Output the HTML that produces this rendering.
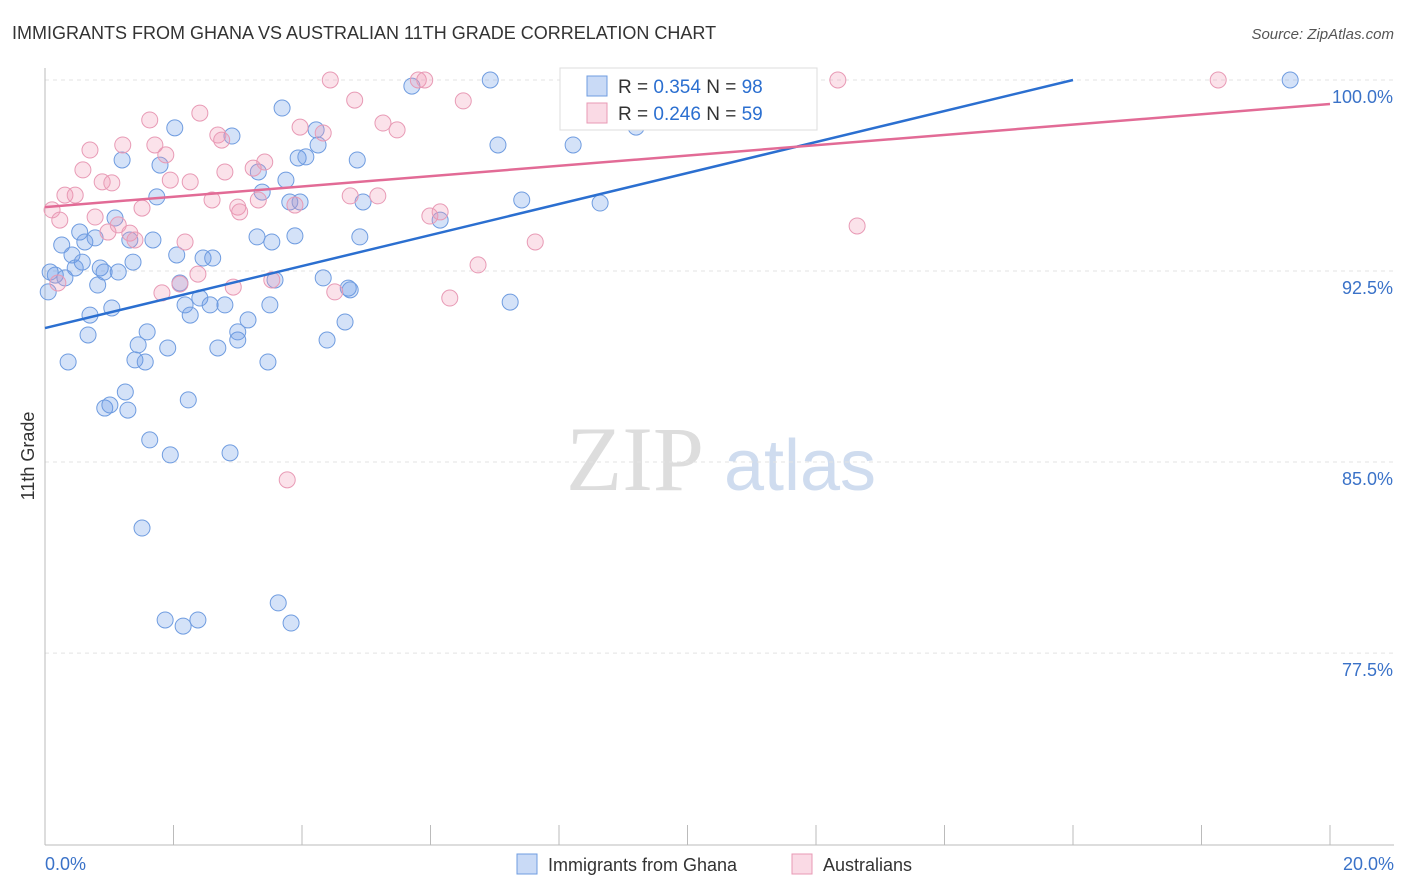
<!DOCTYPE html>
<html><head><meta charset="utf-8"><style>
body{margin:0;background:#fff;font-family:"Liberation Sans",sans-serif}
svg{display:block}
</style></head><body>
<svg id="chart" width="1406" height="892">
<text x="12" y="39" font-size="18" fill="#333">IMMIGRANTS FROM GHANA VS AUSTRALIAN 11TH GRADE CORRELATION CHART</text>
<text x="1394" y="39" font-size="15" fill="#555" text-anchor="end" font-style="italic">Source: ZipAtlas.com</text>
<text x="34" y="456" font-size="18" fill="#333" text-anchor="middle" transform="rotate(-90 34 456)">11th Grade</text>
<g><text x="635" y="490" font-size="92" fill="#ddd" text-anchor="middle" font-family="Liberation Serif,serif">ZIP</text><text x="800" y="490" font-size="72" fill="#cfdcef" text-anchor="middle">atlas</text></g>
<g id="grid"></g><g id="axes"></g><g id="pts"></g><g id="lines"></g>
<g>
<rect x="560" y="68" width="257" height="62" fill="#fff" stroke="#ddd"/>
<rect x="587" y="76" width="20" height="20" fill="rgba(100,150,230,0.35)" stroke="#6f9ce0"/>
<text x="618" y="93" font-size="19" fill="#333">R = <tspan fill="#2b6fd0">0.354</tspan>   N = <tspan fill="#2b6fd0">98</tspan></text>
<rect x="587" y="103" width="20" height="20" fill="rgba(240,150,180,0.35)" stroke="#e89ab5"/>
<text x="618" y="120" font-size="19" fill="#333">R = <tspan fill="#2b6fd0">0.246</tspan>   N = <tspan fill="#2b6fd0">59</tspan></text>
</g>
<g>
<rect x="517" y="854" width="20" height="20" fill="rgba(100,150,230,0.35)" stroke="#6f9ce0"/>
<text x="548" y="871" font-size="18" fill="#333">Immigrants from Ghana</text>
<rect x="792" y="854" width="20" height="20" fill="rgba(240,150,180,0.35)" stroke="#e89ab5"/>
<text x="823" y="871" font-size="18" fill="#333">Australians</text>
</g>
</svg>
<script>
const blueX=[0.05,0.08,0.16,0.26,0.31,0.36,0.42,0.47,0.54,0.58,0.62,0.70,0.67,0.78,0.82,0.86,0.92,0.93,1.01,1.04,1.09,1.14,1.20,1.25,1.29,1.32,1.37,1.40,1.45,1.51,1.56,1.59,1.63,1.68,1.74,1.79,1.87,1.91,1.95,2.02,2.05,2.10,2.15,2.18,2.23,2.26,2.38,2.41,2.46,2.57,2.61,2.69,2.80,2.88,2.91,3.00,3.00,3.16,3.32,3.38,3.30,3.47,3.50,3.53,3.58,3.63,3.69,3.75,3.81,3.83,3.89,3.94,3.97,4.06,4.22,4.25,4.33,4.39,4.67,4.72,4.75,4.86,4.90,4.95,5.71,6.15,6.93,7.05,7.24,7.42,8.22,8.64,9.20,19.38];
const blueY=[91.68,92.46,92.34,93.52,92.23,88.93,93.13,92.62,94.03,92.85,93.64,90.77,89.99,93.8,91.95,92.62,92.46,87.12,87.24,91.05,94.58,92.46,96.86,87.75,87.04,93.72,92.85,89.01,89.6,82.41,88.93,90.11,85.87,93.72,95.41,96.66,78.8,89.48,85.28,98.12,93.13,92.03,78.56,91.17,87.44,90.77,78.8,91.44,93.01,91.17,93.01,89.48,91.17,85.36,97.8,89.79,90.11,90.58,96.39,95.6,93.84,88.93,91.17,93.64,92.15,79.47,98.9,96.07,95.21,78.68,93.88,96.94,95.21,96.98,98.04,97.45,92.23,89.79,90.5,91.83,91.76,96.86,93.84,95.21,99.76,94.5,100,97.45,91.28,95.29,97.45,95.17,98.15,100];
const pinkX=[0.11,0.2,0.23,0.31,0.47,0.59,0.7,0.78,0.89,0.98,1.04,1.14,1.21,1.32,1.4,1.51,1.63,1.71,1.82,1.88,1.95,2.1,2.18,2.26,2.38,2.41,2.6,2.69,2.75,2.8,2.93,3.0,3.03,3.24,3.32,3.42,3.53,3.77,3.89,3.97,4.33,4.44,4.51,4.75,4.82,5.18,5.26,5.48,5.81,5.91,5.99,6.15,6.3,6.51,6.74,7.63,12.34,12.64,18.26];
const pinkY=[94.9,92.03,94.5,95.48,95.48,96.47,97.25,94.62,96.0,94.03,95.96,94.31,97.45,93.99,93.72,94.97,98.43,97.45,91.64,97.06,96.07,91.99,93.64,96.0,92.38,98.7,95.29,97.84,97.64,96.39,91.87,95.01,94.82,96.54,95.29,96.78,92.15,84.3,95.09,98.15,97.92,100,91.68,95.45,99.21,95.45,98.31,98.04,100,100,94.66,94.82,91.44,99.18,92.74,93.64,100,94.27,100];
const yTicks=[100,92.5,85,77.5];
const yTickLabels=["100.0%","92.5%","85.0%","77.5%"];
const blueTrend=[[0,90.26],[16,100]];
const pinkTrend=[[0,95.01],[20,99.06]];
const NS="http://www.w3.org/2000/svg";
const X=v=>45+v*64.25, Y=v=>80+(100-v)*25.47;
function mk(p,t,a){const e=document.createElementNS(NS,t);for(const k in a)e.setAttribute(k,a[k]);p.appendChild(e);return e;}
const grid=document.getElementById('grid'),axes=document.getElementById('axes'),pts=document.getElementById('pts'),lines=document.getElementById('lines');
yTicks.forEach((t,i)=>{
 const l=mk(grid,'line',{x1:45,x2:1394,y1:Y(t),y2:Y(t),stroke:'#e3e3e3','stroke-dasharray':'4,4'});
 
 
 const tx=mk(axes,'text',{x:1393,y:Y(t)+23,'font-size':18,fill:'#3a72c8','text-anchor':'end'});
 tx.textContent=yTickLabels[i];
 
 
});
const ax=mk(axes,'line',{x1:45,x2:1394,y1:845,y2:845,stroke:'#bbb'});


const ay=mk(axes,'line',{x1:45,x2:45,y1:68,y2:845,stroke:'#bbb'});


for(let i=0;i<=10;i++){const t=mk(axes,'line',{x1:X(i*2),x2:X(i*2),y1:825,y2:845,stroke:'#bbb'});
 
 }
[["0.0%",45,'start'],["20.0%",1394,'end']].forEach(d=>{const t=mk(axes,'text',{x:d[1],y:870,'font-size':18,fill:'#3a72c8','text-anchor':d[2]});t.textContent=d[0];
 
 });
blueX.forEach((v,i)=>{const c=mk(pts,'circle',{cx:X(v),cy:Y(blueY[i]),r:8,fill:'rgba(100,150,230,0.28)',stroke:'#6f9ce0','stroke-width':1});
 
 });
pinkX.forEach((v,i)=>{const c=mk(pts,'circle',{cx:X(v),cy:Y(pinkY[i]),r:8,fill:'rgba(240,150,180,0.28)',stroke:'#e89ab5','stroke-width':1});
 
 });
const bl=mk(lines,'line',{x1:X(blueTrend[0][0]),y1:Y(blueTrend[0][1]),x2:X(blueTrend[1][0]),y2:Y(blueTrend[1][1]),stroke:'#2b6fd0','stroke-width':2.5});


const pl=mk(lines,'line',{x1:X(pinkTrend[0][0]),y1:Y(pinkTrend[0][1]),x2:X(pinkTrend[1][0]),y2:Y(pinkTrend[1][1]),stroke:'#e26b96','stroke-width':2.5});


</script>
</body></html>
